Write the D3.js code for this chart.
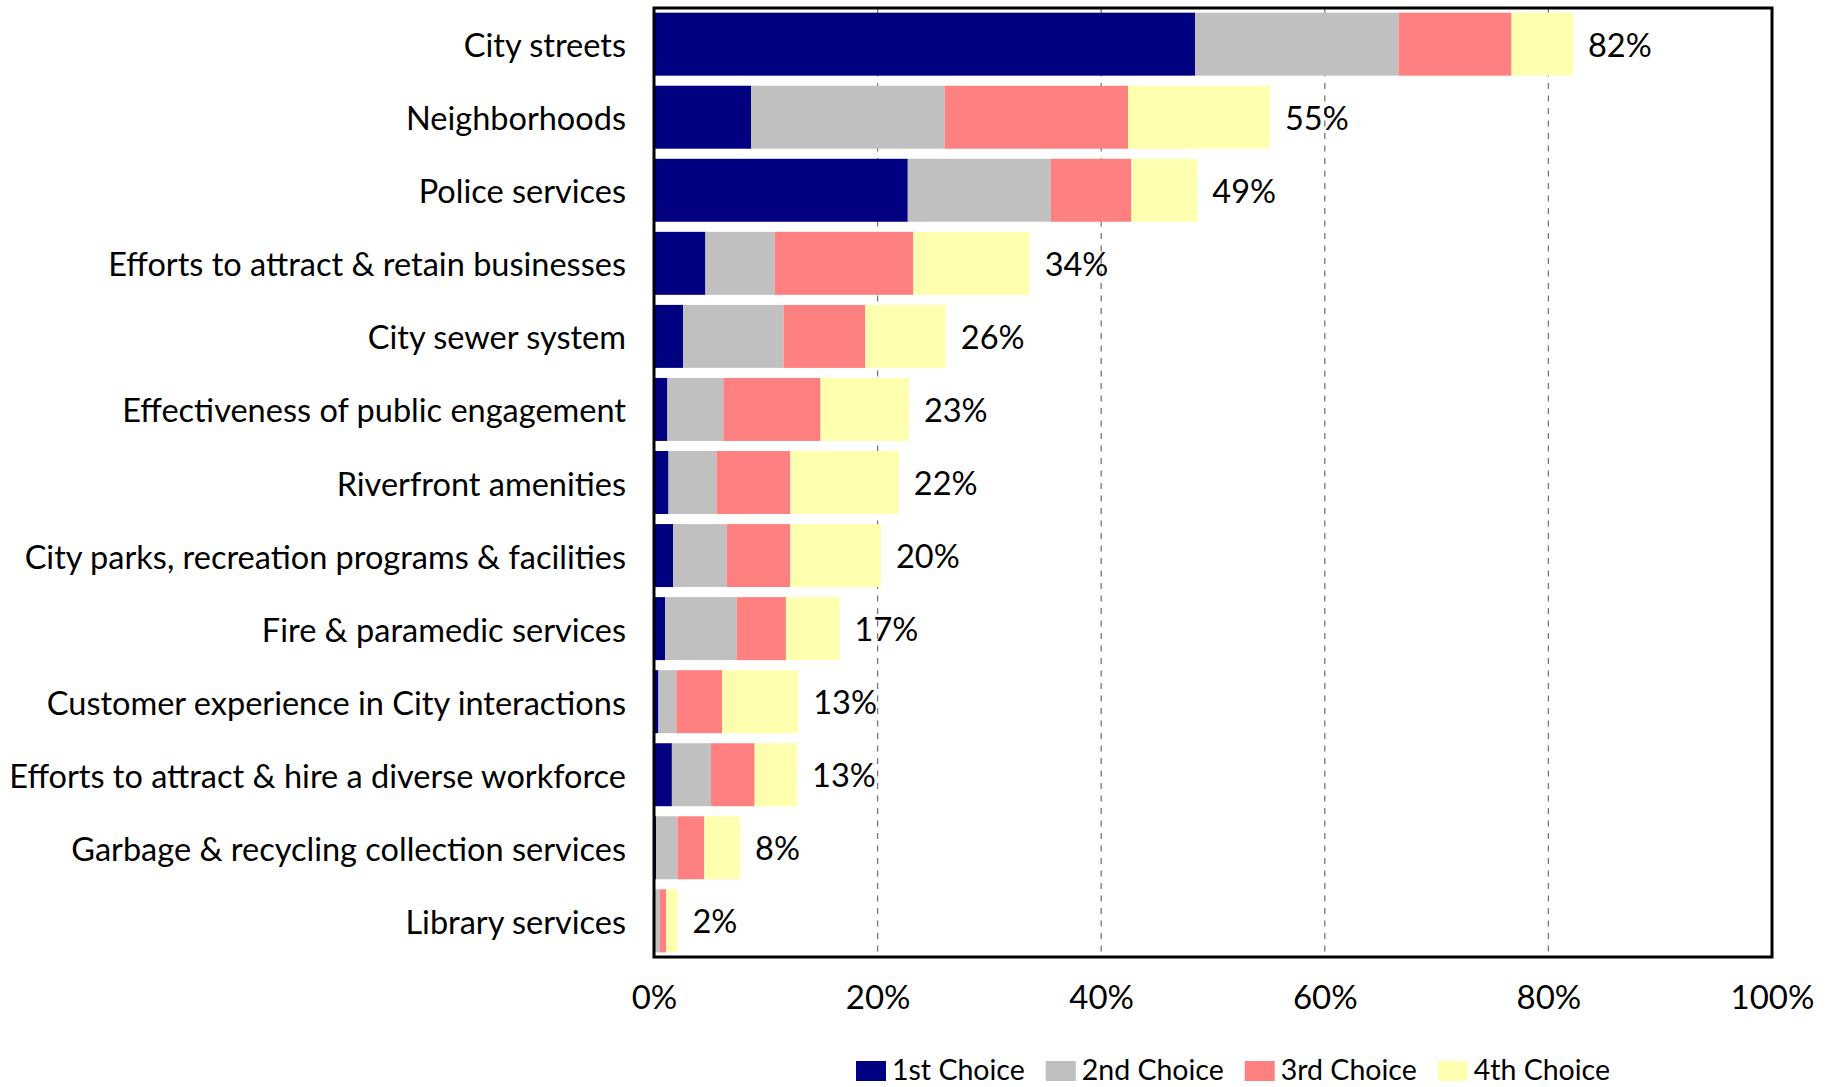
<!DOCTYPE html>
<html>
<head>
<meta charset="utf-8">
<script src="https://cdn.jsdelivr.net/npm/d3@7"></script>
<style>
  html, body { margin: 0; padding: 0; background: #ffffff; }
  svg { display: block; }
  text { font-family: Lato, "Open Sans", sans-serif; fill: #000; }
</style>
</head>
<body>
<svg id="chart" width="1834" height="1087"></svg>
<script>
const categories = [
  "City streets",
  "Neighborhoods",
  "Police services",
  "Efforts to attract & retain businesses",
  "City sewer system",
  "Effectiveness of public engagement",
  "Riverfront amenities",
  "City parks, recreation programs & facilities",
  "Fire & paramedic services",
  "Customer experience in City interactions",
  "Efforts to attract & hire a diverse workforce",
  "Garbage & recycling collection services",
  "Library services"
];
const seriesNames = ["1st Choice", "2nd Choice", "3rd Choice", "4th Choice"];
const firstChoice  = [48.4,  8.7, 22.7,  4.6, 2.6, 1.2, 1.3, 1.7, 1.0, 0.4, 1.6, 0.2, 0.0];
const secondChoice = [18.2, 17.3, 12.8,  6.2, 9.0, 5.0, 4.3, 4.8, 6.4, 1.6, 3.5, 1.9, 0.5];
const thirdChoice  = [10.1, 16.4,  7.2, 12.4, 7.3, 8.7, 6.6, 5.7, 4.4, 4.1, 3.9, 2.4, 0.6];
const fourthChoice = [ 5.5, 12.7,  5.9, 10.4, 7.2, 7.9, 9.7, 8.1, 4.8, 6.8, 3.8, 3.2, 1.0];
const xTicks = [0, 20, 40, 60, 80, 100];
const colors = ["#000080", "#C0C0C0", "#FF8080", "#FFFFB0"];

const svg = d3.select("#chart");
const plot = { left: 654, right: 1772, top: 8, bottom: 957 };

const x = d3.scaleLinear().domain([0, 100]).range([plot.left, plot.right]);
const y = d3.scaleBand().domain(categories).range([plot.top, plot.bottom])
  .paddingInner(0.138).paddingOuter(0.064);
const color = d3.scaleOrdinal().domain(seriesNames).range(colors);

const rows = categories.map((c, i) => ({
  category: c,
  "1st Choice": firstChoice[i],
  "2nd Choice": secondChoice[i],
  "3rd Choice": thirdChoice[i],
  "4th Choice": fourthChoice[i]
}));
const total = d => d["1st Choice"] + d["2nd Choice"] + d["3rd Choice"] + d["4th Choice"];
const stacked = d3.stack().keys(seriesNames)(rows);

// gridlines
svg.append("g").selectAll("line")
  .data(xTicks.filter(t => t > 0 && t < 100))
  .join("line")
  .attr("x1", d => x(d)).attr("x2", d => x(d))
  .attr("y1", plot.top).attr("y2", plot.bottom)
  .attr("stroke", "#777").attr("stroke-width", 1.3)
  .attr("stroke-dasharray", "6,6.5");

// bars
svg.append("g").selectAll("g")
  .data(stacked)
  .join("g")
  .attr("fill", d => color(d.key))
  .selectAll("rect")
  .data(d => d)
  .join("rect")
  .attr("x", d => x(d[0]))
  .attr("width", d => Math.max(0, x(d[1]) - x(d[0])))
  .attr("y", d => y(d.data.category))
  .attr("height", y.bandwidth());

// totals labels
const fmt = d => d3.format(".0f")(d) + "%";
svg.append("g").selectAll("text")
  .data(rows)
  .join("text")
  .attr("x", d => x(total(d)) + 15)
  .attr("y", d => y(d.category) + y.bandwidth() / 2)
  .attr("dy", "0.38em")
  .attr("font-size", 32.5)
  .text(d => fmt(total(d)));

// plot border
svg.append("rect")
  .attr("x", plot.left).attr("y", plot.top)
  .attr("width", plot.right - plot.left).attr("height", plot.bottom - plot.top)
  .attr("fill", "none").attr("stroke", "#000").attr("stroke-width", 3);

// y axis labels
const yAxis = d3.axisLeft(y).tickSize(0).tickPadding(28);
const yg = svg.append("g").attr("transform", `translate(${plot.left},0)`).call(yAxis);
yg.select(".domain").remove();
yg.selectAll("text").attr("font-size", 32.5).attr("font-family", "Lato, sans-serif")
  .attr("fill", "#000").attr("dy", "0.4em");

// x axis labels
const xAxis = d3.axisBottom(x).tickValues(xTicks).tickFormat(d => d + "%").tickSize(0).tickPadding(29);
const xg = svg.append("g").attr("transform", `translate(0,${plot.bottom})`).call(xAxis);
xg.select(".domain").remove();
xg.selectAll("text").attr("font-size", 33).attr("font-family", "Lato, sans-serif").attr("fill", "#000");

// legend
const legend = svg.append("g");
let lx = 856;
seriesNames.forEach((name) => {
  const g = legend.append("g").attr("transform", `translate(${lx},1061)`);
  g.append("rect").attr("width", 30).attr("height", 20).attr("fill", color(name));
  const t = g.append("text").attr("x", 36).attr("y", 9).attr("dy", "0.36em")
    .attr("font-size", 28.5).text(name);
  lx += 36 + t.node().getComputedTextLength() + 21;
});
</script>
</body>
</html>
